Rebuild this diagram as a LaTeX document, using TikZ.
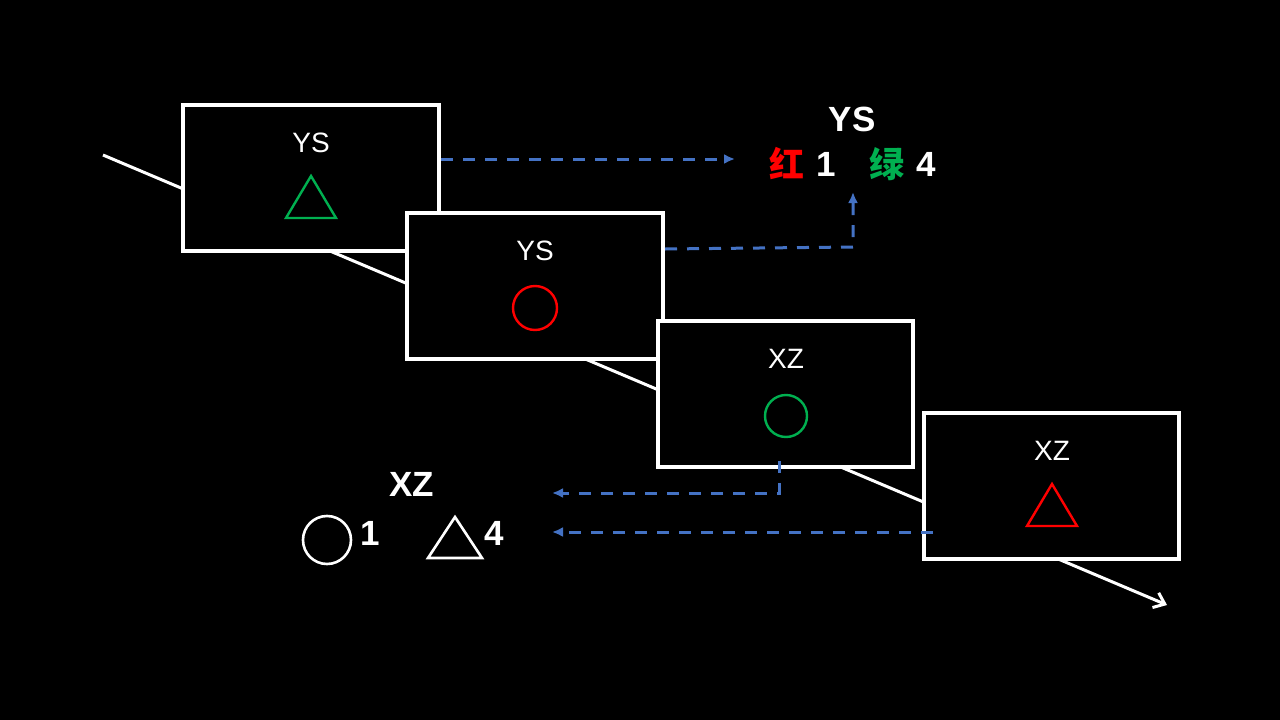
\documentclass[tikz,border=0pt]{standalone}
\usepackage{fontspec}
\setmainfont{Liberation Sans}
\newfontfamily\cjk{Noto Sans CJK SC}
\usetikzlibrary{arrows.meta}
\definecolor{dblue}{HTML}{4472C4}
\definecolor{mygreen}{HTML}{00B050}
\definecolor{myred}{HTML}{FF0000}
\begin{document}
\begin{tikzpicture}[x=1pt,y=-1pt,
  frame/.style={draw=white,line width=3.2pt,fill=black},
  boxlabel/.style={text=white,font=\fontsize{28}{32}\selectfont,inner sep=0pt},
  biglabel/.style={text=white,font=\fontsize{35}{40}\selectfont\bfseries,inner sep=0pt},
  cjklabel/.style={inner sep=0pt,font=\cjk\fontsize{35}{40}\selectfont\bfseries},
  dashlink/.style={draw=dblue,line width=3pt,dash pattern=on 12pt off 10pt,-{Latex[length=11pt,width=10pt]}},
  shapeline/.style={line width=2.4pt}
]
\fill[black] (0,0) rectangle (1280,720);
\useasboundingbox (0,0) rectangle (1280,720);
% diagonal
\coordinate (ds) at (103,155);
\coordinate (de) at (1167,605);
\draw[white,line width=3pt,-{Straight Barb[length=10pt,width=16pt,line width=3pt]}] (ds) -- (de);
% boxes
\draw[frame] (183,105) rectangle (439,251);
\draw[frame] (407,213) rectangle (663,359);
\draw[frame] (658,321) rectangle (913,467);
\draw[frame] (924,413) rectangle (1179,559);
\node[boxlabel] (l1) at (311,143) {YS};
\node[boxlabel] (l2) at (535,251) {YS};
\node[boxlabel] (l3) at (786,359) {XZ};
\node[boxlabel] (l4) at (1052,451) {XZ};
\draw[mygreen,shapeline] (311,176) -- (336,218) -- (286,218) -- cycle;
\draw[myred,shapeline] (535,308) circle (22);
\draw[mygreen,shapeline] (786,416) circle (21);
\draw[myred,shapeline] (1052,484) -- (1077,526) -- (1027,526) -- cycle;
% top-right summary
\node[biglabel] (ys) at (852,119) {YS};
\node[cjklabel,text=myred] (hong) at (787,164) {红};
\node[biglabel] (one) at (826,164) {1};
\node[cjklabel,text=mygreen] (lv) at (887,164) {绿};
\node[biglabel] (four) at (926,164) {4};
% bottom-left summary
\node[biglabel] (xz) at (412,484) {XZ};
\node[draw=white,line width=2.6pt,circle,minimum size=48pt,inner sep=0pt] (circ) at (327,540) {};
\node[biglabel] (onb) at (370,533) {1};
\draw[white,line width=2.6pt] (455,517) -- (482,558) -- (428,558) -- cycle;
\node[biglabel] (fourb) at (494,533) {4};
% dashed links
\coordinate (a1s) at (441,159);
\coordinate (a1e) at (735,159);
\draw[dashlink] (a1s) -- (a1e);
\coordinate (a2s) at (665,249);
\coordinate (a2c) at (853,247);
\coordinate (a2e) at (853,192);
\draw[dashlink] (a2s) -- (a2c) -- (a2e);
\coordinate (a3s) at (779,461);
\coordinate (a3c) at (779,493);
\coordinate (a3e) at (552,493);
\draw[dashlink] (a3s) -- (a3c) -- (a3e);
\coordinate (a4s) at (933,532);
\coordinate (a4e) at (552,532);
\draw[dashlink] (a4s) -- (a4e);
\end{tikzpicture}
\end{document}
